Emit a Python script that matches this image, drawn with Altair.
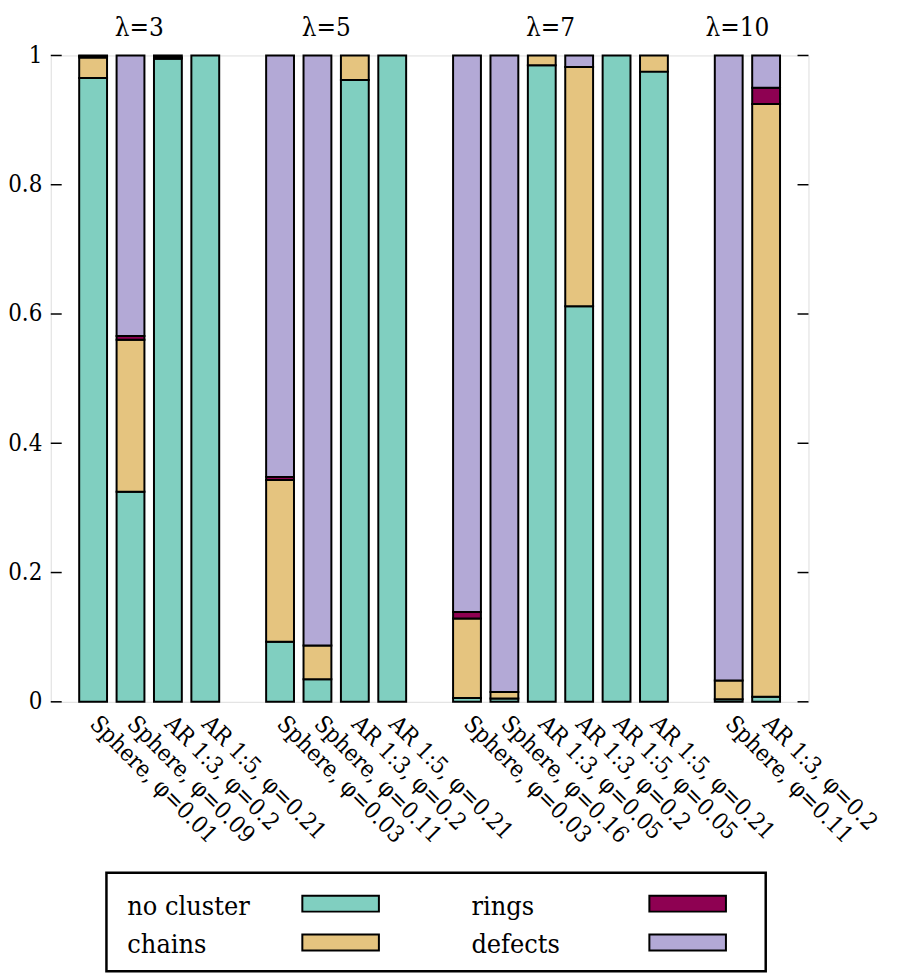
import json
import altair as alt
import pandas as pd

# ---------------- data ----------------
groups = ["λ=3", "λ=5", "λ=7", "λ=10"]
bar_group = [0, 0, 0, 0, 1, 1, 1, 1, 2, 2, 2, 2, 2, 2, 3, 3]
bar_labels = [
    "Sphere, φ=0.01", "Sphere, φ=0.09", "AR 1:3, φ=0.2", "AR 1:5, φ=0.21",
    "Sphere, φ=0.03", "Sphere, φ=0.11", "AR 1:3, φ=0.2", "AR 1:5, φ=0.21",
    "Sphere, φ=0.03", "Sphere, φ=0.16", "AR 1:3, φ=0.05", "AR 1:3, φ=0.2",
    "AR 1:5, φ=0.05", "AR 1:5, φ=0.21",
    "Sphere, φ=0.11", "AR 1:3, φ=0.2",
]
categories = ["no cluster", "chains", "rings", "defects"]
colors = ["#80cfc0", "#e5c47f", "#8e0152", "#b3a9d6"]

no_cluster = [0.965, 0.325, 0.995, 1.000, 0.093, 0.035, 0.962, 1.000,
              0.006, 0.005, 0.985, 0.612, 1.000, 0.975, 0.004, 0.008]
chains = [0.032, 0.235, 0.002, 0.000, 0.250, 0.052, 0.038, 0.000,
          0.123, 0.010, 0.015, 0.370, 0.000, 0.025, 0.029, 0.917]
rings = [0.002, 0.006, 0.003, 0.000, 0.005, 0.000, 0.000, 0.000,
         0.010, 0.000, 0.000, 0.000, 0.000, 0.000, 0.000, 0.025]
defects = [0.001, 0.434, 0.000, 0.000, 0.652, 0.913, 0.000, 0.000,
           0.861, 0.985, 0.000, 0.018, 0.000, 0.000, 0.967, 0.050]

y_ticks = [0, 0.2, 0.4, 0.6, 0.8, 1]

# ---------------- build tables ----------------
W, H = 762, 650
FONT = "DejaVu Serif Condensed, DejaVu Serif, serif"

positions = [i + g for i, g in enumerate(bar_group)]  # one empty slot between groups
x_lo, x_hi = min(positions) - 1, max(positions) + 1

series = [no_cluster, chains, rings, defects]
rows = []
for k, (cat, vals) in enumerate(zip(categories, series)):
    for i, v in enumerate(vals):
        rows.append({"pos": positions[i], "label": bar_labels[i], "group": groups[bar_group[i]],
                     "category": cat, "order": k, "value": v})
bars_df = pd.DataFrame(rows)

lab_by_pos = [""] * (x_hi)
for p, l in zip(positions, bar_labels):
    lab_by_pos[p] = l
label_expr = json.dumps(lab_by_pos, ensure_ascii=False) + "[datum.value]"

title_df = pd.DataFrame({
    "group": groups,
    "center": [sum(p for p, g in zip(positions, bar_group) if g == gi) /
               bar_group.count(gi) for gi in range(len(groups))],
})
ticks_df = pd.DataFrame({"t": y_ticks})
legend_df = pd.DataFrame({"category": categories, "color": colors, "idx": list(range(len(categories)))})

x_scale = alt.Scale(domain=[x_lo, x_hi], nice=False, zero=False)
y_scale = alt.Scale(domain=[0, 1], nice=False, zero=True)

bars = alt.Chart(bars_df).transform_filter("datum.value > 0").mark_bar(
    size=28, stroke="black", strokeWidth=2
).encode(
    x=alt.X("pos:Q", scale=x_scale, title=None,
            axis=alt.Axis(values=positions, labelExpr=label_expr, labelAngle=45,
                          labelAlign="left", labelBaseline="middle", labelPadding=18,
                          labelFont=FONT, labelFontSize=23.5, labelColor="black",
                          labelLimit=500, labelOverlap=False, labelFlush=False,
                          ticks=False, domain=False, grid=False)),
    y=alt.Y("value:Q", stack="zero", scale=y_scale, title=None,
            axis=alt.Axis(values=y_ticks, format="~g", labelPadding=9,
                          labelFont=FONT, labelFontSize=24, labelColor="black",
                          ticks=False, domain=False, grid=False)),
    color=alt.Color("category:N", scale=alt.Scale(domain=categories, range=colors), legend=None),
    order=alt.Order("order:Q", sort="ascending"),
    tooltip=["group:N", "label:N", "category:N", "value:Q"],
)

tick_left = alt.Chart(ticks_df).mark_rule(color="black", strokeWidth=1.5).encode(
    y=alt.Y("t:Q", scale=y_scale), x=alt.value(0), x2=alt.value(11))
tick_right = alt.Chart(ticks_df).mark_rule(color="black", strokeWidth=1.5).encode(
    y=alt.Y("t:Q", scale=y_scale), x=alt.value(W - 11), x2=alt.value(W))

titles = alt.Chart(title_df).mark_text(
    font=FONT, fontSize=26, color="black", baseline="alphabetic", align="center", dx=-10
).encode(x=alt.X("center:Q", scale=x_scale), y=alt.value(-20), text="group:N")

# ---------------- custom key (gnuplot style: text, then swatch) ----------------
legend_box = alt.Chart(pd.DataFrame({"a": [0]})).mark_rect(
    fill="white", fillOpacity=0, stroke="black", strokeWidth=2.5
).encode(x=alt.value(56), x2=alt.value(719), y=alt.value(822), y2=alt.value(921))

legend_base = alt.Chart(legend_df).transform_calculate(
    col="floor(datum.idx / 2)", row="datum.idx % 2"
).transform_calculate(
    tx="77 + datum.col * 346", ty="864 + datum.row * 38.5",
    sx="253 + datum.col * 349", sx2="330 + datum.col * 349",
    sy="845 + datum.row * 39", sy2="861 + datum.row * 39",
)
legend_text = legend_base.mark_text(
    font=FONT, fontSize=27, color="black", align="left", baseline="alphabetic"
).encode(x=alt.X("tx:Q", scale=None), y=alt.Y("ty:Q", scale=None), text="category:N")
legend_swatch = legend_base.mark_rect(stroke="black", strokeWidth=2).encode(
    x=alt.X("sx:Q", scale=None), x2="sx2:Q",
    y=alt.Y("sy:Q", scale=None), y2="sy2:Q",
    fill=alt.Fill("color:N", scale=None),
)

chart = alt.layer(
    bars, tick_left, tick_right, titles, legend_box, legend_swatch, legend_text
).properties(
    width=W, height=H,
    padding={"left": 43, "top": 45, "right": 84, "bottom": 271},
    autosize=alt.AutoSizeParams(type="none"),
).configure_view(
    stroke="black", strokeWidth=1.5
).configure(background="white")

chart.save("out.html", embed_options={"renderer": "svg", "actions": False})
